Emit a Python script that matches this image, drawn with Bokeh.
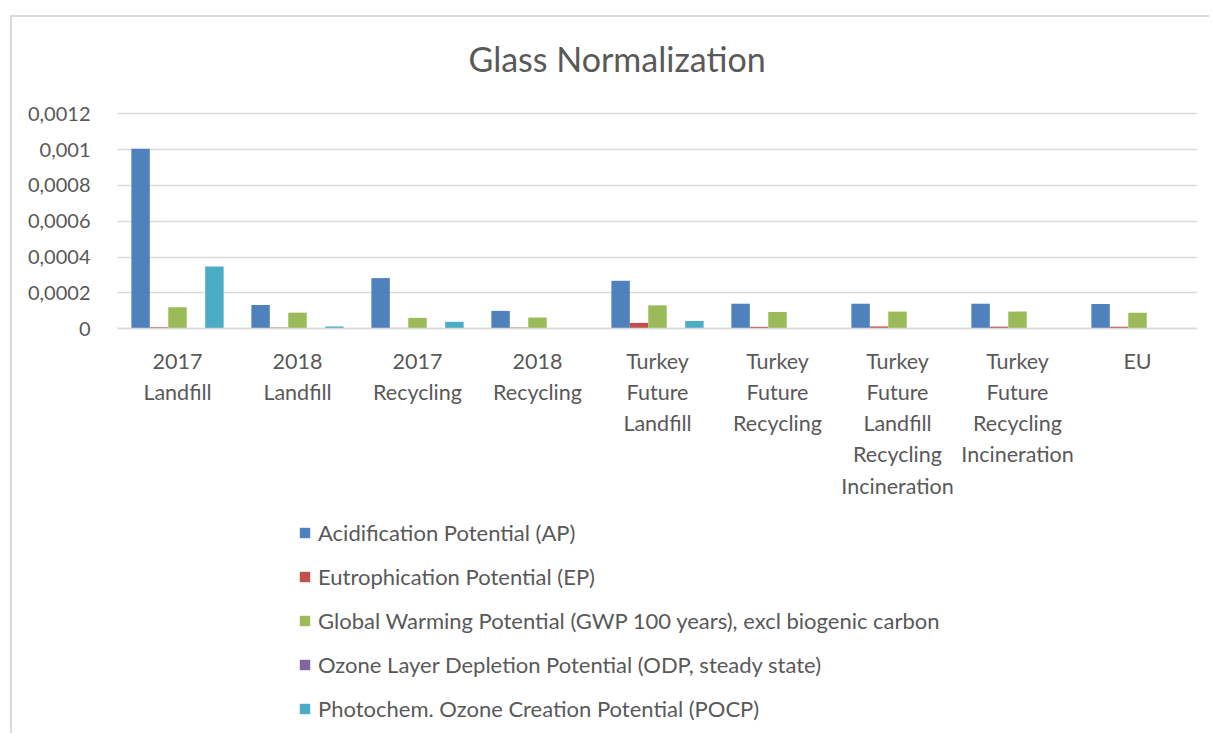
from bokeh.plotting import figure
from bokeh.models import (ColumnDataSource, Range1d, FactorRange, Legend, LegendItem,
                          Label, FixedTicker, CustomJSTickFormatter, CategoricalAxis)
from bokeh.transform import dodge
from bokeh.embed import file_html
from bokeh.resources import INLINE

categories = ["2017\nLandfill", "2018\nLandfill", "2017\nRecycling", "2018\nRecycling",
              "Turkey\nFuture\nLandfill", "Turkey\nFuture\nRecycling",
              "Turkey\nFuture\nLandfill\nRecycling\nIncineration",
              "Turkey\nFuture\nRecycling\nIncineration", "EU"]

ap = [0.001005, 0.000133, 0.000283, 0.000100, 0.000268, 0.000140, 0.000140, 0.000140, 0.000139]
ep = [0.000009, 0.000007, 0.000005, 0.000007, 0.000033, 0.000011, 0.000013, 0.000012, 0.000012]
gwp = [0.000120, 0.000090, 0.000061, 0.000063, 0.000131, 0.000094, 0.000096, 0.000096, 0.000090]
odp = [0, 0, 0, 0, 0, 0, 0, 0, 0]
pocp = [0.000348, 0.000013, 0.000039, 0, 0.000044, 0, 0, 0, 0]

series_names = ["Acidification Potential (AP)", "Eutrophication Potential (EP)",
                "Global Warming Potential (GWP 100 years), excl biogenic carbon",
                "Ozone Layer Depletion Potential (ODP, steady state)",
                "Photochem. Ozone Creation Potential (POCP)"]
colors = ["#4F81BD", "#C0504D", "#9BBB59", "#8064A2", "#4BACC6"]

y_ticks = [0, 0.0002, 0.0004, 0.0006, 0.0008, 0.001, 0.0012]

source = ColumnDataSource(dict(cat=categories, ap=ap, ep=ep, gwp=gwp, odp=odp, pocp=pocp))

FONT = "Lato"
TXT = "#595959"

# frame spans the whole canvas height; the value axis 0..0.0012 occupies 215 px of it
W, H = 1199, 718
PX = 0.0012 / 215.0
y_start = -(718 - 311.3) * PX
y_end = 0.0012 + 96.3 * PX

p = figure(width=W, height=H, x_range=FactorRange(*categories),
           y_range=Range1d(y_start, y_end), x_axis_location=None,
           output_backend="svg", toolbar_location=None,
           min_border_left=105, min_border_right=14, min_border_top=0, min_border_bottom=0)
p.margin = (15, 0, 0, 10)
p.styles = {"border-top": "2px solid #d9d9d9", "border-left": "2px solid #d9d9d9"}
p.outline_line_color = None
p.background_fill_color = "white"

bw = 0.1538
cols = ["ap", "ep", "gwp", "odp", "pocp"]
renderers = []
for i, (c, col) in enumerate(zip(cols, colors)):
    r = p.vbar(x=dodge("cat", (i - 2) * bw, range=p.x_range), top=c, width=bw,
               source=source, fill_color=col, line_color=None)
    renderers.append(r)

p.yaxis.ticker = FixedTicker(ticks=y_ticks)
p.yaxis.formatter = CustomJSTickFormatter(code="return tick.toString().replace('.', ',');")
p.yaxis.axis_line_color = None
p.yaxis.major_tick_line_color = None
p.yaxis.minor_tick_line_color = None
p.yaxis.major_label_text_font = FONT
p.yaxis.major_label_text_font_size = "20px"
p.yaxis.major_label_text_color = TXT
p.yaxis.major_label_standoff = 21

xaxis = CategoricalAxis(fixed_location=0)
xaxis.axis_line_color = "#d9d9d9"
xaxis.axis_line_width = 1.5
xaxis.major_tick_line_color = None
xaxis.minor_tick_line_color = None
xaxis.major_label_text_font = FONT
xaxis.major_label_text_font_size = "21.5px"
xaxis.major_label_text_color = TXT
xaxis.major_label_standoff = 13
xaxis.major_label_orientation = "horizontal"
p.add_layout(xaxis, "below")

p.xgrid.grid_line_color = None
p.ygrid.grid_line_color = "#d9d9d9"
p.ygrid.grid_line_width = 1.5

title = Label(x=351, y=677, x_units="screen", y_units="screen", text="Glass Normalization",
              text_font=FONT, text_font_size="34px", text_color=TXT,
              text_baseline="alphabetic", text_align="left")
p.add_layout(title)

legend = Legend(items=[LegendItem(label=n, renderers=[r]) for n, r in zip(series_names, renderers)],
                location=(181, 13), orientation="vertical",
                glyph_width=13, glyph_height=13, label_height=27, spacing=17,
                label_standoff=7, padding=0, margin=0,
                label_text_font=FONT, label_text_font_size="22px", label_text_color=TXT,
                border_line_color=None, background_fill_alpha=0)
p.add_layout(legend, "center")

open("out.html", "w").write(file_html(p, INLINE))
